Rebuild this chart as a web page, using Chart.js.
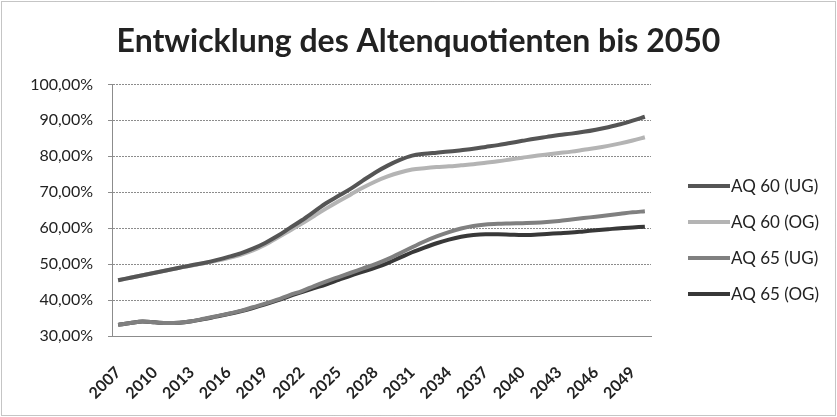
<!DOCTYPE html>
<html>
<head>
<meta charset="utf-8">
<script src="https://cdn.jsdelivr.net/npm/chart.js@4/dist/chart.umd.min.js"></script>
<style>
  html, body { margin: 0; padding: 0; background: #fff; }
  #wrap { width: 837px; height: 417px; }
</style>
</head>
<body>
<div id="wrap"><canvas id="c" width="837" height="417"></canvas></div>
<script>
const years = [];
for (let y = 2007; y <= 2050; y++) years.push(String(y));

const aq60UG = [45.5,46.2,46.9,47.6,48.3,49.0,49.7,50.3,51.1,52.0,53.0,54.3,55.9,57.8,60.0,62.2,64.6,67.0,69.0,71.0,73.3,75.5,77.4,79.0,80.2,80.7,81.0,81.3,81.7,82.1,82.6,83.1,83.7,84.3,84.9,85.4,85.9,86.3,86.8,87.4,88.1,88.9,89.9,91.0];
const aq60OG = [45.5,46.2,46.9,47.6,48.3,49.0,49.6,50.2,50.9,51.7,52.6,53.8,55.4,57.3,59.3,61.3,63.4,65.5,67.5,69.4,71.3,73.0,74.4,75.5,76.3,76.7,77.0,77.2,77.5,77.8,78.2,78.6,79.1,79.6,80.1,80.5,80.9,81.3,81.8,82.3,82.9,83.6,84.4,85.3];
const aq65UG = [33.1,33.6,34.0,33.8,33.6,33.7,34.1,34.8,35.5,36.2,37.0,38.0,39.0,40.1,41.4,42.5,43.9,45.2,46.4,47.6,48.8,50.0,51.4,53.0,54.7,56.3,57.7,58.9,59.9,60.6,61.0,61.2,61.3,61.4,61.5,61.7,62.0,62.4,62.8,63.2,63.6,64.0,64.4,64.7];
const aq65OG = [33.1,33.6,34.0,33.8,33.6,33.7,34.1,34.7,35.4,36.1,36.9,37.8,38.8,39.9,41.1,42.2,43.3,44.4,45.6,46.8,47.9,49.0,50.3,51.8,53.3,54.6,55.8,56.8,57.6,58.1,58.3,58.3,58.2,58.1,58.2,58.4,58.6,58.8,59.1,59.4,59.7,60.0,60.2,60.4];
const seriesNames = ['AQ 60 (UG)', 'AQ 60 (OG)', 'AQ 65 (UG)', 'AQ 65 (OG)'];
const seriesColors = ['#555555', '#b4b4b4', '#808080', '#383838'];
const yTicks = [30, 40, 50, 60, 70, 80, 90, 100];
const titleText = 'Entwicklung des Altenquotienten bis 2050';

const FONT = 'Lato, "Open Sans", sans-serif';

const frame = {
  id: 'frame',
  afterDraw(chart) {
    const ctx = chart.ctx;
    ctx.save();
    ctx.strokeStyle = '#8a8a8a';
    ctx.lineWidth = 1;
    ctx.setLineDash([1, 1]);
    ctx.strokeRect(1.5, 1.5, chart.width - 3, chart.height - 3);
    ctx.restore();
  }
};

// legend drawn to the right of the plot, from the datasets
const sideLegend = {
  id: 'sideLegend',
  afterDraw(chart) {
    const ctx = chart.ctx;
    const x0 = chart.chartArea.right + 37;
    const lineLen = 42;
    const yStart = 186, step = 36;
    ctx.save();
    ctx.setLineDash([]);
    ctx.font = '17px ' + FONT;
    ctx.textBaseline = 'middle';
    ctx.textAlign = 'left';
    chart.data.datasets.forEach((ds, i) => {
      const y = yStart + i * step;
      ctx.strokeStyle = ds.borderColor;
      ctx.lineWidth = 4;
      ctx.beginPath();
      ctx.moveTo(x0, y);
      ctx.lineTo(x0 + lineLen, y);
      ctx.stroke();
      ctx.fillStyle = '#222';
      ctx.fillText(ds.label, x0 + lineLen + 1, y + 1);
    });
    ctx.restore();
  }
};

const seriesData = [aq60UG, aq60OG, aq65UG, aq65OG];
new Chart(document.getElementById('c'), {
  type: 'line',
  data: {
    labels: years,
    datasets: seriesNames.map((n, i) => ({
      label: n,
      data: seriesData[i],
      borderColor: seriesColors[i],
      backgroundColor: seriesColors[i],
      borderWidth: 4,
      pointRadius: 0,
      tension: 0,
      cubicInterpolationMode: 'monotone',
      fill: false,
      yAxisID: 'y'
    }))
  },
  options: {
    responsive: false,
    animation: false,
    devicePixelRatio: 1,
    layout: { padding: { left: 0, right: 0, top: 0, bottom: 0 } },
    plugins: {
      title: {
        display: true,
        text: titleText,
        color: '#222',
        font: { family: FONT, size: 32, weight: 'bold' },
        padding: { top: 22, bottom: 24 }
      },
      legend: { display: false },
      tooltip: { enabled: false }
    },
    scales: {
      x: {
        offset: true,
        grid: { display: false, drawTicks: false },
        border: { display: true, color: '#8c8c8c', dash: [2, 1] },
        afterFit: (axis) => { axis.height = 81; },
        ticks: {
          autoSkip: false,
          maxRotation: 45,
          minRotation: 45,
          padding: 27,
          color: '#222',
          font: { family: FONT, size: 16, weight: 'bold' },
          callback: function (v, i) { return i % 3 === 0 ? years[i] : ''; }
        }
      },
      y: {
        min: 30,
        max: 100,
        afterFit: (axis) => { axis.width = 112; },
        afterBuildTicks: (axis) => { axis.ticks = yTicks.map(v => ({ value: v })); },
        grid: { color: '#8c8c8c', lineWidth: 1, tickLength: 4 },
        border: { display: true, color: '#8c8c8c', dash: [2, 1] },
        ticks: {
          padding: 15,
          color: '#222',
          font: { family: FONT, size: 16 },
          callback: (v) => v.toFixed(2).replace('.', ',') + '%'
        }
      },
      side: {
        position: 'right',
        display: true,
        min: 0,
        max: 1,
        afterFit: (axis) => { axis.width = 186; },
        grid: { display: false, drawTicks: false },
        border: { display: false },
        ticks: { display: false }
      }
    }
  },
  plugins: [frame, sideLegend]
});
</script>
</body>
</html>
